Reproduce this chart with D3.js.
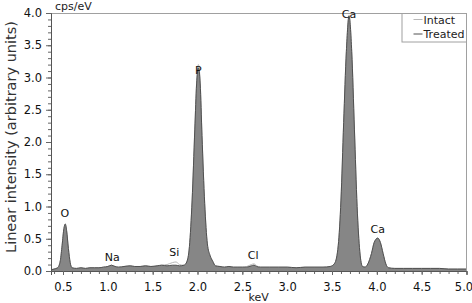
<!DOCTYPE html>
<html>
<head>
<meta charset="utf-8">
<script src="https://cdn.jsdelivr.net/npm/d3@7"></script>
<style>
  body { margin: 0; background: #fff; }
  svg { display: block; font-family: "DejaVu Sans", Verdana, sans-serif; }
</style>
</head>
<body>
<svg id="chart"></svg>
<script>
// energies in keV
var energy = [0.37, 0.40, 0.44, 0.47, 0.49, 0.51, 0.525, 0.54, 0.56, 0.58, 0.60, 0.65, 0.70, 0.75, 0.80, 0.85, 0.90, 0.95, 1.00, 1.04, 1.08, 1.12, 1.18, 1.25, 1.30, 1.36, 1.42, 1.48, 1.55, 1.60, 1.66, 1.72, 1.76, 1.80, 1.85, 1.88, 1.91, 1.94, 1.97, 1.99, 2.01, 2.03, 2.05, 2.08, 2.11, 2.14, 2.17, 2.20, 2.25, 2.30, 2.35, 2.40, 2.45, 2.50, 2.55, 2.60, 2.63, 2.66, 2.70, 2.80, 2.90, 3.00, 3.10, 3.20, 3.30, 3.40, 3.48, 3.53, 3.57, 3.60, 3.63, 3.66, 3.69, 3.72, 3.75, 3.78, 3.81, 3.84, 3.87, 3.90, 3.94, 3.97, 4.01, 4.04, 4.07, 4.10, 4.13, 4.20, 4.30, 4.40, 4.50, 4.60, 4.70, 4.80, 4.90, 5.00];

var treated = [0.02, 0.03, 0.05, 0.16, 0.40, 0.66, 0.73, 0.63, 0.35, 0.13, 0.05, 0.04, 0.05, 0.04, 0.05, 0.05, 0.05, 0.06, 0.07, 0.09, 0.07, 0.06, 0.07, 0.08, 0.07, 0.07, 0.08, 0.07, 0.08, 0.09, 0.08, 0.09, 0.09, 0.08, 0.09, 0.14, 0.38, 1.10, 2.20, 2.90, 3.15, 2.90, 2.10, 1.05, 0.42, 0.24, 0.15, 0.08, 0.07, 0.06, 0.07, 0.06, 0.06, 0.06, 0.06, 0.08, 0.09, 0.07, 0.06, 0.06, 0.06, 0.06, 0.05, 0.06, 0.06, 0.06, 0.07, 0.12, 0.40, 1.10, 2.30, 3.40, 3.95, 3.40, 2.20, 1.00, 0.30, 0.07, 0.06, 0.11, 0.27, 0.44, 0.51, 0.44, 0.27, 0.11, 0.05, 0.04, 0.04, 0.04, 0.04, 0.04, 0.04, 0.03, 0.03, 0.03];

var intact = [0.02, 0.03, 0.05, 0.16, 0.40, 0.65, 0.72, 0.62, 0.35, 0.13, 0.05, 0.04, 0.05, 0.04, 0.05, 0.05, 0.05, 0.06, 0.07, 0.09, 0.07, 0.06, 0.07, 0.08, 0.07, 0.07, 0.08, 0.07, 0.08, 0.09, 0.10, 0.13, 0.14, 0.10, 0.09, 0.14, 0.38, 1.10, 2.20, 2.92, 3.20, 2.92, 2.10, 1.05, 0.42, 0.24, 0.15, 0.08, 0.07, 0.06, 0.07, 0.06, 0.06, 0.06, 0.07, 0.10, 0.11, 0.08, 0.06, 0.06, 0.06, 0.06, 0.05, 0.06, 0.06, 0.06, 0.07, 0.12, 0.40, 1.10, 2.30, 3.40, 3.97, 3.40, 2.20, 1.00, 0.30, 0.07, 0.06, 0.11, 0.27, 0.44, 0.51, 0.44, 0.27, 0.11, 0.05, 0.04, 0.04, 0.04, 0.04, 0.04, 0.04, 0.03, 0.03, 0.03];

// peak labels
var peakNames = ["O", "Na", "Si", "P", "Cl", "Ca", "Ca"];
var peakEnergy = [0.52, 1.05, 1.74, 2.01, 2.62, 3.69, 4.01];
var peakLabelAt = [0.84, 0.16, 0.24, 3.05, 0.18, 3.92, 0.59];

var xTicks = [0.5, 1.0, 1.5, 2.0, 2.5, 3.0, 3.5, 4.0, 4.5, 5.0];
var yTicks = [0.0, 0.5, 1.0, 1.5, 2.0, 2.5, 3.0, 3.5, 4.0];
var seriesNames = ["Intact", "Treated"];

var W = 472, H = 303;
var margin = { top: 13, right: 5.5, bottom: 32, left: 51 },
    width = W - margin.left - margin.right,
    height = H - margin.top - margin.bottom;

var svg = d3.select("#chart").attr("width", W).attr("height", H);
var g = svg.append("g")
  .attr("transform", "translate(" + margin.left + "," + margin.top + ")");

var x = d3.scaleLinear().domain([0.366, 5.0]).range([0, width]);
var y = d3.scaleLinear().domain([0, 4.0]).range([height, 0]);

var pts = energy.map(function (e, i) { return { e: e, t: treated[i], n: intact[i] }; });

// spectra
var area = d3.area()
  .x(function (d) { return x(d.e); })
  .y0(y(0))
  .y1(function (d) { return y(d.t); })
  .curve(d3.curveMonotoneX);

var lineIntact = d3.line()
  .x(function (d) { return x(d.e); })
  .y(function (d) { return y(d.n); })
  .curve(d3.curveMonotoneX);

var lineTreated = d3.line()
  .x(function (d) { return x(d.e); })
  .y(function (d) { return y(d.t); })
  .curve(d3.curveMonotoneX);

g.append("path").datum(pts)
  .attr("d", lineIntact)
  .attr("fill", "none")
  .attr("stroke", "#b8b8b8")
  .attr("stroke-width", 1);

g.append("path").datum(pts)
  .attr("d", area)
  .attr("fill", "#868686");

g.append("path").datum(pts)
  .attr("d", lineTreated)
  .attr("fill", "none")
  .attr("stroke", "#505050")
  .attr("stroke-width", 1);

// frame (top, right)
g.append("path")
  .attr("d", "M0,0.5H" + width + "V" + height)
  .attr("fill", "none")
  .attr("stroke", "#a0a0a0")
  .attr("stroke-width", 1);

// axes
var minorX = d3.range(4, 51).map(function (v) { return v / 10; });
var minorY = d3.range(0, 41).map(function (v) { return v / 10; });

var xMinor = g.append("g")
  .attr("transform", "translate(0," + height + ")")
  .call(d3.axisBottom(x).tickValues(minorX).tickSize(3).tickFormat(""));
xMinor.select(".domain").remove();

var xAxis = g.append("g")
  .attr("transform", "translate(0," + height + ")")
  .call(d3.axisBottom(x).tickValues(xTicks).tickSize(4).tickFormat(d3.format(".1f")));

var yMinor = g.append("g")
  .call(d3.axisLeft(y).tickValues(minorY).tickSize(3).tickFormat(""));
yMinor.select(".domain").remove();

var yAxis = g.append("g")
  .call(d3.axisLeft(y).tickValues(yTicks).tickSize(5).tickFormat(d3.format(".1f")));

[xMinor, xAxis, yMinor, yAxis].forEach(function (a) {
  a.selectAll("line").attr("stroke", "#666");
  a.select(".domain").attr("stroke", "#555");
});
xAxis.selectAll("text").attr("font-size", 11.5).attr("fill", "#111").attr("dy", "1.15em");
// last label sits against the right edge
xAxis.selectAll(".tick").filter(function (d) { return d === 5.0; })
  .select("text").attr("dx", "-3px");
yAxis.selectAll("text").attr("font-size", 11.5).attr("fill", "#111").attr("dx", "-1px");
xAxis.attr("font-family", null);
yAxis.attr("font-family", null);

// peak labels
g.selectAll(".peak")
  .data(peakNames)
  .enter().append("text")
  .attr("class", "peak")
  .attr("x", function (d, i) { return x(peakEnergy[i]); })
  .attr("y", function (d, i) { return y(peakLabelAt[i]); })
  .attr("text-anchor", "middle")
  .attr("font-size", 11)
  .attr("fill", "#111")
  .text(function (d) { return d; });

// axis titles
svg.append("text")
  .attr("x", 55).attr("y", 10)
  .attr("font-size", 11).attr("fill", "#222")
  .text("cps/eV");

svg.append("text")
  .attr("x", margin.left + width / 2).attr("y", 301)
  .attr("text-anchor", "middle")
  .attr("font-size", 11).attr("fill", "#222")
  .text("keV");

svg.append("text")
  .attr("transform", "translate(16,137) rotate(-90)")
  .attr("text-anchor", "middle")
  .attr("font-size", 14.5).attr("fill", "#333")
  .text("Linear intensity (arbitrary units)");

// legend
var lg = g.append("g").attr("transform", "translate(" + (width - 65) + ",0)");
lg.append("rect")
  .attr("x", 0.5).attr("y", 0.5).attr("width", 64.5).attr("height", 28.5)
  .attr("fill", "#fff").attr("stroke", "#a0a0a0");
var legColors = ["#b8b8b8", "#505050"];
seriesNames.forEach(function (s, i) {
  lg.append("line")
    .attr("x1", 12).attr("x2", 21)
    .attr("y1", 6.5 + i * 14.5).attr("y2", 6.5 + i * 14.5)
    .attr("stroke", legColors[i]).attr("stroke-width", 1);
  lg.append("text")
    .attr("x", 22).attr("y", 10.5 + i * 14.5)
    .attr("font-size", 11).attr("fill", "#222")
    .text(s);
});
</script>
</body>
</html>
